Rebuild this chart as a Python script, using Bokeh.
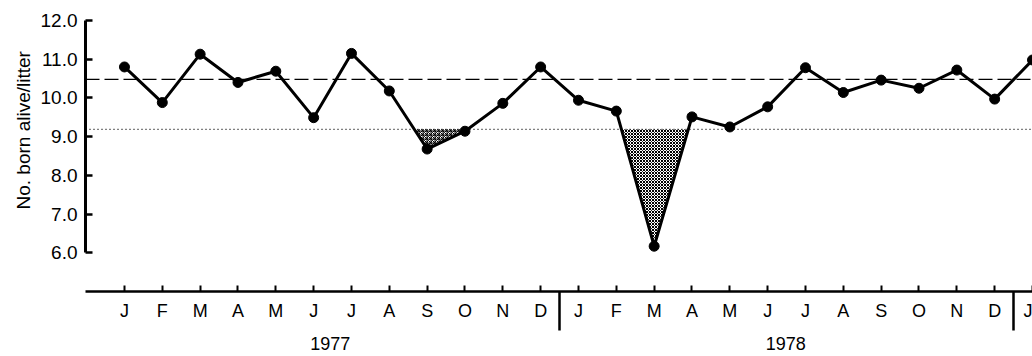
import numpy as np
from bokeh.plotting import figure
from bokeh.models import FixedTicker, Span, Range1d, NumeralTickFormatter, LinearAxis, Title
from bokeh.embed import file_html
from bokeh.resources import INLINE

# ---- data ----
month_labels = ["J", "F", "M", "A", "M", "J", "J", "A", "S", "O", "N", "D",
                "J", "F", "M", "A", "M", "J", "J", "A", "S", "O", "N", "D", "J"]
month_idx = list(range(25))
born_alive = [10.80, 9.88, 11.13, 10.40, 10.69, 9.49, 11.15, 10.18, 8.68, 9.14, 9.86, 10.80,
              9.94, 9.66, 6.17, 9.51, 9.25, 9.77, 10.78, 10.14, 10.46, 10.25, 10.72, 9.97, 10.98]
mean_level = 10.48
lower_level = 9.19
years = ["1977", "1978"]
year_centers = [5.44, 17.48]
year_dividers = [11.5, 23.5]
y_ticks = [6, 7, 8, 9, 10, 11, 12]

FONT = "Liberation Sans"

# ---- shading below the lower level (derived from data) ----
x = np.array(month_idx, dtype=float)
y = np.array(born_alive, dtype=float)
xs, ys = [], []
for i in range(len(x) - 1):
    xs.append(x[i]); ys.append(y[i])
    if (y[i] - lower_level) * (y[i + 1] - lower_level) < 0:
        t = (lower_level - y[i]) / (y[i + 1] - y[i])
        xs.append(x[i] + t * (x[i + 1] - x[i])); ys.append(lower_level)
xs.append(x[-1]); ys.append(y[-1])
xs = np.array(xs); ys = np.array(ys)
y_low = np.minimum(ys, lower_level)

p = figure(width=1032, height=356, x_range=Range1d(-1.03, 24.0), y_range=Range1d(5.0, 12.0),
           output_backend="svg", toolbar_location=None,
           min_border_left=85, min_border_right=0, min_border_top=20, min_border_bottom=65)
p.grid.visible = False
p.outline_line_color = None
p.background_fill_color = "white"
p.border_fill_color = "white"

m1 = xs <= year_dividers[0]
m2 = xs > year_dividers[0]
p.varea(x=xs[m1], y1=y_low[m1], y2=lower_level, fill_color="white",
        hatch_pattern="criss_cross", hatch_scale=4, hatch_weight=1, hatch_color="black")
p.varea(x=xs[m2], y1=y_low[m2], y2=lower_level, fill_color="white",
        hatch_pattern="diagonal_cross", hatch_scale=3, hatch_weight=1, hatch_color="black")

p.add_layout(Span(location=mean_level, dimension="width", line_color="black",
                  line_width=1.3, line_dash="14 5"))
p.add_layout(Span(location=lower_level, dimension="width", line_color="black",
                  line_width=1.2, line_dash="1 3"))

p.line(month_idx, born_alive, line_color="black", line_width=3)
p.scatter(month_idx, born_alive, size=10, color="black")

# y axis
ya = p.yaxis[0]
ya.bounds = (6, 12)
ya.ticker = FixedTicker(ticks=y_ticks)
ya.formatter = NumeralTickFormatter(format="0.0")
ya.major_tick_in = 7
ya.major_tick_out = 0
ya.minor_tick_in = 0
ya.minor_tick_out = 0
ya.minor_tick_line_color = None
ya.axis_line_width = 3
ya.major_tick_line_width = 2.5
ya.major_label_standoff = 8
ya.major_label_text_font = FONT
ya.major_label_text_font_size = "19px"
ya.major_label_text_color = "black"
ya.axis_line_color = "black"
ya.major_tick_line_color = "black"

p.add_layout(Title(text="No. born alive/litter", align="left", offset=82, standoff=3,
                   vertical_align="top",
                   text_font=FONT, text_font_size="19px", text_font_style="normal",
                   text_color="black"), "left")

# x axis (months, with year dividers as long minor ticks)
xa = p.xaxis[0]
xa.ticker = FixedTicker(ticks=month_idx, minor_ticks=year_dividers)
xa.major_label_overrides = {i: m for i, m in zip(month_idx, month_labels)}
xa.major_tick_in = 6
xa.major_tick_out = 0
xa.minor_tick_in = 0
xa.minor_tick_out = 39
xa.minor_tick_line_width = 2.5
xa.minor_tick_line_color = "black"
xa.axis_line_width = 2.5
xa.major_tick_line_width = 2
xa.axis_line_color = "black"
xa.major_tick_line_color = "black"
xa.major_label_standoff = -30
xa.major_label_text_font = FONT
xa.major_label_text_font_size = "18px"
xa.major_label_text_color = "black"

# year labels axis
yr_axis = LinearAxis(ticker=FixedTicker(ticks=year_centers),
                     major_label_overrides={c: t for c, t in zip(year_centers, years)},
                     axis_line_color=None, major_tick_line_color=None, minor_tick_line_color=None,
                     major_tick_in=0, major_tick_out=0, minor_tick_in=0, minor_tick_out=0,
                     major_label_standoff=13, major_label_text_font=FONT,
                     major_label_text_font_size="18px", major_label_text_color="black")
p.add_layout(yr_axis, "below")

open("out.html", "w").write(file_html(p, INLINE))
